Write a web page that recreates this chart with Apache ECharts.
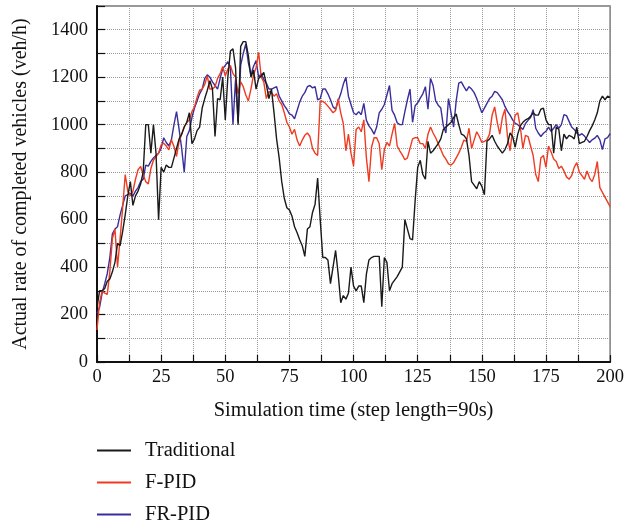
<!DOCTYPE html>
<html>
<head>
<meta charset="utf-8">
<script src="https://cdn.jsdelivr.net/npm/echarts@6/dist/echarts.min.js"></script>
<style>
html,body{margin:0;padding:0;background:#fff;}
#chart{width:627px;height:527px;}
</style>
</head>
<body>
<div id="chart"></div>
<script>
// Series values, one per simulation step (0..200)
var traditional = [
230,300,300,310,340,350,380,420,500,490,
550,620,700,760,660,700,720,750,800,1000,
1000,880,1000,880,600,820,800,830,820,820,
860,900,940,960,990,1010,1050,920,940,975,
990,1070,1110,1145,1185,1150,950,1110,1105,1200,
1020,1200,1310,1320,1240,1000,1330,1350,1350,1290,
1200,1230,1150,1195,1205,1220,1170,1110,1150,1050,
940,860,760,690,650,640,615,570,545,515,
490,445,560,570,630,665,775,600,440,440,
430,330,400,470,370,250,280,265,290,400,
320,300,320,320,250,370,430,440,445,445,
445,233,440,420,300,330,345,360,380,400,
600,560,520,515,680,820,850,790,770,930,
880,890,905,920,940,980,990,1000,1010,1030,
1045,1000,960,955,940,870,760,745,730,760,
740,705,930,940,955,930,910,895,880,895,
920,965,950,905,960,995,1010,1020,1025,1035,
1050,1040,1040,1065,1070,1020,1000,1000,880,990,
980,890,960,940,955,950,940,990,920,925,
930,950,975,995,1020,1050,1100,1120,1105,1120,
1115
];
var fpid = [
135,250,300,290,285,380,520,560,400,520,
650,790,720,700,720,770,810,824,790,760,
750,815,850,866,880,915,922,910,894,936,
908,866,930,960,990,1010,1020,1055,1075,1115,
1145,1150,1170,1205,1150,1150,1160,1195,1215,1245,
1205,1235,1250,1215,1200,1130,1180,1160,1125,1100,
1150,1210,1240,1305,1200,1180,1110,1140,1135,1120,
1130,1100,1085,1050,1010,990,960,980,935,910,
935,955,965,950,900,880,870,1100,1098,1090,
1078,1065,1050,1060,1110,1050,1005,890,960,880,
825,980,990,970,1020,860,760,905,945,945,
920,810,895,925,910,960,1005,910,890,873,
852,860,900,940,945,945,920,920,900,960,
990,965,945,920,895,870,855,835,830,840,
860,880,905,935,930,985,900,935,970,950,
925,930,936,960,1040,1075,1010,960,1030,1065,
950,890,980,1040,1050,990,900,955,950,910,
870,790,760,860,870,820,910,885,855,845,
815,825,805,780,770,785,820,840,800,785,
770,805,775,760,790,845,735,715,695,675,
655
];
var frpid = [
205,230,290,330,372,440,540,560,570,620,
660,700,705,710,700,720,735,760,770,830,
825,845,860,870,880,900,945,925,910,936,
1000,1055,980,900,800,950,975,1030,1070,1100,
1130,1150,1195,1210,1200,1180,1165,1150,1195,1235,
1250,1265,1240,1000,1190,1010,1250,1300,1340,1260,
1210,1245,1270,1200,1215,1190,1175,1150,1150,1155,
1160,1120,1100,1080,1065,1045,1040,1025,1060,1095,
1120,1135,1160,1165,1155,1160,1105,1110,1150,1150,
1130,1105,1075,1065,1100,1130,1170,1200,1120,1085,
1050,1042,1055,1042,1090,1018,995,980,960,990,
1050,1065,1085,1125,1165,1060,1040,1008,1000,1000,
1055,1105,1150,1010,1080,1092,1112,1130,1160,1065,
1195,1165,1100,1082,1070,995,965,1110,1050,990,
1100,1175,1180,1160,1142,1160,1150,1135,1110,1080,
1050,1070,1090,1110,1120,1140,1135,1120,1105,1077,
1056,1040,1020,1006,1000,990,980,1005,1018,1030,
1063,985,965,950,964,972,990,972,985,1000,
985,1000,1042,1038,1014,990,980,965,955,962,
952,938,925,936,943,955,936,895,940,945,
962
];
var seriesNames = ['Traditional', 'F-PID', 'FR-PID'];
var seriesColors = ['#1a1a1a', '#ee3b22', '#3a2e9c'];
var xTickLabels = [0, 25, 50, 75, 100, 125, 150, 175, 200];
var yTickLabels = [0, 200, 400, 600, 800, 1000, 1200, 1400];

function pairs(arr) {
  var out = [];
  for (var i = 0; i < arr.length; i++) out.push([i, arr[i]]);
  return out;
}

var FONT = '"Liberation Serif", "DejaVu Serif", serif';
var chart = echarts.init(document.getElementById('chart'), null, {renderer: 'canvas'});
var allData = [traditional, fpid, frpid];
var series = seriesNames.map(function (n, k) {
  return {
    name: n,
    type: 'line',
    data: pairs(allData[k]),
    showSymbol: false,
    symbol: 'none',
    lineStyle: {color: seriesColors[k], width: 1.4},
    itemStyle: {color: seriesColors[k]},
    animation: false,
    z: 3 + (2 - k)
  };
});

chart.setOption({
  animation: false,
  backgroundColor: '#fff',
  grid: {left: 97, right: 15, top: 6, bottom: 165, show: true, borderColor: '#777', borderWidth: 1.5, backgroundColor: 'transparent'},
  legend: {
    orient: 'vertical',
    left: 97,
    top: 440,
    height: 87,
    padding: 0,
    itemWidth: 34,
    itemHeight: 2,
    itemGap: 11,
    icon: 'rect',
    data: seriesNames,
    textStyle: {fontFamily: FONT, fontSize: 20.5, color: '#111', padding: [0, 0, 0, 9], lineHeight: 21}
  },
  xAxis: {
    type: 'value',
    min: 0, max: 200, interval: 12.5,
    name: 'Simulation time (step length=90s)',
    nameLocation: 'middle',
    nameGap: 38,
    nameTextStyle: {fontFamily: FONT, fontSize: 20.5, color: '#111'},
    axisLine: {show: true, onZero: false, lineStyle: {color: '#111', width: 2}},
    axisTick: {show: true, inside: true, length: 7, lineStyle: {color: '#111', width: 1.2}},
    axisLabel: {
      fontFamily: FONT, fontSize: 18.5, color: '#111', margin: 6,
      formatter: function (v) { return xTickLabels.indexOf(v) >= 0 ? String(v) : ''; }
    },
    splitLine: {show: true, lineStyle: {color: '#999', type: 'dotted', width: 1}}
  },
  yAxis: {
    type: 'value',
    min: 0, max: 1500, interval: 100,
    name: 'Actual rate of completed vehicles (veh/h)',
    nameLocation: 'middle',
    nameGap: 66,
    nameTextStyle: {fontFamily: FONT, fontSize: 20, color: '#111'},
    axisLine: {show: true, onZero: false, lineStyle: {color: '#111', width: 2}},
    axisTick: {show: true, inside: true, length: 8, lineStyle: {color: '#111', width: 1.2}},
    axisLabel: {
      fontFamily: FONT, fontSize: 18.5, color: '#111', margin: 9,
      formatter: function (v) { return yTickLabels.indexOf(v) >= 0 ? String(v) : ''; }
    },
    splitLine: {show: true, lineStyle: {color: '#999', type: 'dotted', width: 1}}
  },
  series: series
});
</script>
</body>
</html>
